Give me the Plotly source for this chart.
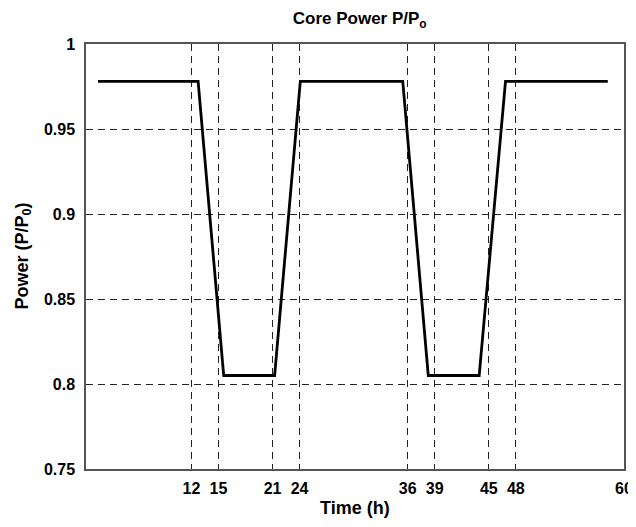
import plotly.graph_objects as go

# Data
time_h = [1.63, 12.74, 15.58, 21.23, 24.08, 35.45, 38.28, 43.93, 46.85, 58.2]
power = [0.978, 0.978, 0.805, 0.805, 0.978, 0.978, 0.805, 0.805, 0.978, 0.978]

x_ticks = [12, 15, 21, 24, 36, 39, 45, 48, 60]
y_ticks = [0.75, 0.8, 0.85, 0.9, 0.95, 1]
y_tick_text = ["0.75", "0.8", "0.85", "0.9", "0.95", "1"]

fig = go.Figure()
fig.add_trace(go.Scatter(x=time_h, y=power, mode="lines",
                         line=dict(color="black", width=2.8), showlegend=False))

font = dict(family="Liberation Sans, Arial, sans-serif", color="black")

# page body adds an 8px margin, so the figure is made 8px smaller
fig.update_layout(
    width=628, height=519,
    margin=dict(l=78, r=12, t=36, b=58, autoexpand=False),
    paper_bgcolor="white", plot_bgcolor="white",
    title=dict(text="<b>Core Power P/P<sub>o</sub></b>", x=0.56, xanchor="center",
               y=0.98, yanchor="middle", font=dict(size=17, **font)),
    font=font,
    annotations=[
        dict(text="<b>Time (h)</b>", xref="paper", yref="paper", x=0.5, y=-0.092,
             xanchor="center", yanchor="middle", showarrow=False,
             font=dict(size=18, **font)),
        dict(text="<b>Power (P/P<sub>0</sub>)</b>", xref="paper", yref="paper",
             x=-0.117, y=0.5, xanchor="center", yanchor="middle", textangle=-90,
             showarrow=False, font=dict(size=18, **font)),
    ],
)
fig.update_xaxes(
    range=[0.3, 60], tickvals=x_ticks, ticktext=[f"<b>{v}</b>" for v in x_ticks],
    tickfont=dict(size=16, **font), ticklabelstandoff=4, automargin=False,
    showgrid=True, gridcolor="#222", gridwidth=1, griddash="7px,5px",
    showline=True, linecolor="#555", linewidth=1.5, mirror=True,
    ticks="", zeroline=False,
)
fig.update_yaxes(
    range=[0.75, 1], tickvals=y_ticks, ticktext=[f"<b>{t}</b>" for t in y_tick_text],
    tickfont=dict(size=16, **font), ticklabelstandoff=6, automargin=False,
    showgrid=True, gridcolor="#222", gridwidth=1, griddash="7px,5px",
    showline=True, linecolor="#555", linewidth=1.5, mirror=True,
    ticks="", zeroline=False,
)

fig.write_html("out.html")
